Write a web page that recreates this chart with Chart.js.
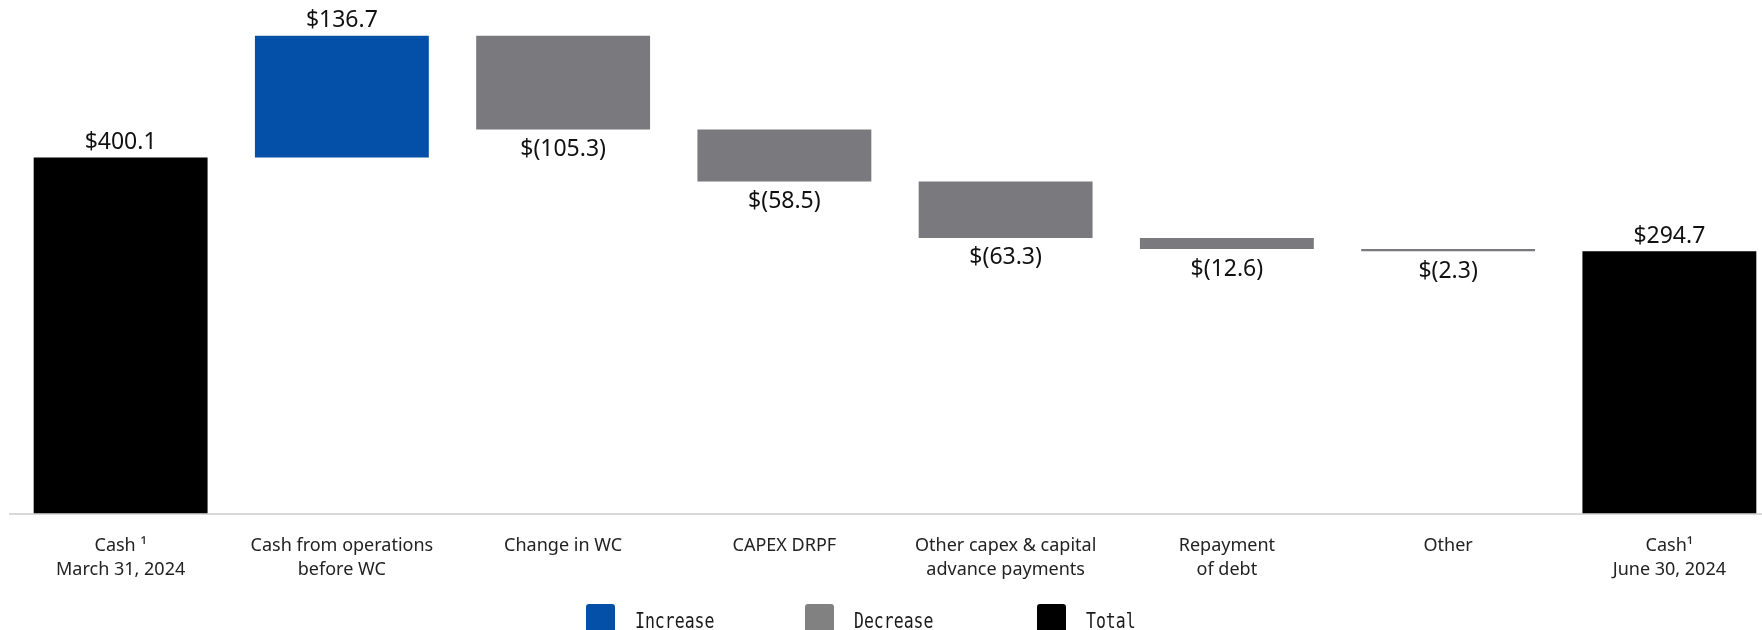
<!DOCTYPE html>
<html>
<head>
<meta charset="utf-8">
<script src="https://cdn.jsdelivr.net/npm/chart.js@4"></script>
<style>
  html, body { margin: 0; padding: 0; background: #fff; overflow: hidden; }
  #wrap { width: 1780px; height: 630px; position: relative; }
</style>
</head>
<body>
<div id="wrap"><canvas id="cashBridge"></canvas></div>
<script>
const categories = [
  ['Cash \u00B9', 'March 31, 2024'],
  ['Cash from operations', 'before WC'],
  'Change in WC',
  'CAPEX DRPF',
  ['Other capex & capital', 'advance payments'],
  ['Repayment', 'of debt'],
  'Other',
  ['Cash\u00B9', 'June 30, 2024']
];
const changes = [400.1, 136.7, -105.3, -58.5, -63.3, -12.6, -2.3, 294.7];
const kinds = ['total', 'increase', 'decrease', 'decrease', 'decrease', 'decrease', 'decrease', 'total'];
const legendLabels = ['Increase', 'Decrease', 'Total'];

const kindColors = { increase: '#0450A8', decrease: '#7A797E', total: '#000000' };
const legendColors = ['#0450A8', '#818181', '#000000'];
const legendX = [586, 805, 1037];

// floating [start, end] ranges for the bridge
let running = 0;
const ranges = changes.map((v, i) => {
  if (kinds[i] === 'total') { running = v; return [0, v]; }
  const r = [running, running + v];
  running += v;
  return r;
});

const fmt = (v) => v < 0 ? '$(' + Math.abs(v).toFixed(1) + ')' : '$' + v.toFixed(1);

const valueLabels = {
  id: 'valueLabels',
  afterDatasetsDraw(chart) {
    const ctx = chart.ctx;
    const meta = chart.getDatasetMeta(0);
    ctx.save();
    ctx.font = '23px "Noto Sans"';
    ctx.fillStyle = '#111';
    ctx.textAlign = 'center';
    ctx.textBaseline = 'middle';
    meta.data.forEach((bar, i) => {
      const top = Math.min(bar.y, bar.base);
      const bottom = Math.max(bar.y, bar.base);
      if (changes[i] < 0) ctx.fillText(fmt(changes[i]), bar.x, bottom + 20);
      else ctx.fillText(fmt(changes[i]), bar.x, top - 15);
    });
    ctx.restore();
  }
};

const boxLegend = {
  id: 'boxLegend',
  afterDraw(chart) {
    const ctx = chart.ctx;
    ctx.save();
    legendLabels.forEach((label, i) => {
      const x = legendX[i];
      ctx.fillStyle = legendColors[i];
      ctx.beginPath();
      ctx.roundRect(x, 604, 29, 34, 3);
      ctx.fill();
      // squeezed mono text
      ctx.save();
      ctx.translate(x + 49, 628);
      ctx.scale(0.75, 1);
      ctx.font = '22px "DejaVu Sans Mono"';
      ctx.fillStyle = '#1a1a1a';
      ctx.textBaseline = 'alphabetic';
      ctx.fillText(label, 0, 0);
      ctx.restore();
    });
    ctx.restore();
  }
};

new Chart(document.getElementById('cashBridge'), {
  type: 'bar',
  data: {
    labels: categories,
    datasets: [{
      data: ranges,
      backgroundColor: kinds.map(k => kindColors[k]),
      borderWidth: 0,
      categoryPercentage: 1,
      barPercentage: 0.786,
      borderSkipped: false
    }]
  },
  options: {
    responsive: true,
    maintainAspectRatio: false,
    animation: false,
    layout: { padding: { left: 10, right: 0, top: 0, bottom: 0 } },
    plugins: { legend: { display: false }, tooltip: { enabled: false } },
    scales: {
      x: {
        grid: { display: false, drawTicks: false },
        border: { display: true, color: '#d9d9d9', width: 2 },
        ticks: {
          color: '#222',
          font: { family: '"Noto Sans"', size: 18, lineHeight: 1.333 },
          padding: 20,
          maxRotation: 0,
          autoSkip: false
        },
        afterFit(scale) { scale.height = 116.5; }
      },
      y: { display: false, min: 0, max: 577 }
    }
  },
  plugins: [valueLabels, boxLegend]
});
</script>
</body>
</html>
